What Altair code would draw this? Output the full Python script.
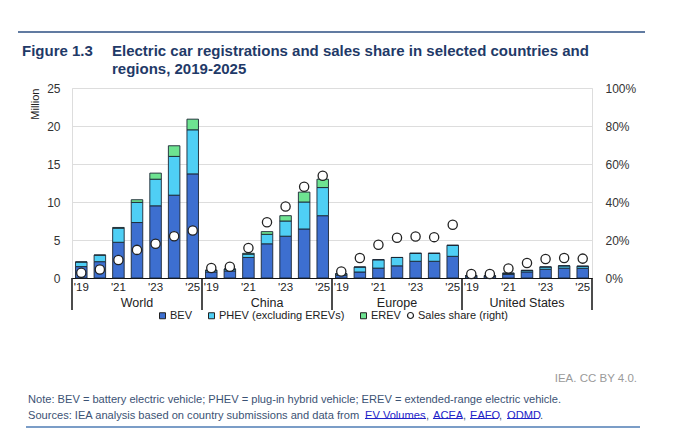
import altair as alt
import pandas as pd

regions = ["World", "China", "Europe", "United States"]
years = [2019, 2020, 2021, 2022, 2023, 2024, 2025]

# Million vehicles
bev = {
    "World": [1.5, 2.15, 4.7, 7.3, 9.5, 10.9, 13.7],
    "China": [0.8, 0.93, 2.7, 4.5, 5.5, 6.45, 8.2],
    "Europe": [0.36, 0.79, 1.3, 1.6, 2.2, 2.2, 2.85],
    "United States": [0.24, 0.23, 0.47, 0.8, 1.15, 1.3, 1.28],
}
phev = {
    "World": [0.6, 0.85, 1.85, 2.65, 3.5, 5.1, 5.8],
    "China": [0.22, 0.25, 0.43, 1.25, 2.0, 3.55, 3.7],
    "Europe": [0.2, 0.65, 1.1, 1.1, 1.05, 1.05, 1.45],
    "United States": [0.09, 0.07, 0.16, 0.2, 0.3, 0.3, 0.27],
}
erev = {
    "World": [0.02, 0.03, 0.1, 0.35, 0.8, 1.4, 1.4],
    "China": [0.0, 0.0, 0.12, 0.35, 0.7, 1.3, 1.1],
    "Europe": [0.0, 0.0, 0.0, 0.0, 0.0, 0.0, 0.0],
    "United States": [0.0, 0.0, 0.0, 0.0, 0.0, 0.0, 0.0],
}
# Sales share (fraction)
share = {
    "World": [0.028, 0.045, 0.095, 0.148, 0.18, 0.22, 0.25],
    "China": [0.053, 0.059, 0.158, 0.293, 0.376, 0.48, 0.538],
    "Europe": [0.034, 0.105, 0.175, 0.212, 0.218, 0.215, 0.28],
    "United States": [0.021, 0.021, 0.05, 0.079, 0.10, 0.105, 0.102],
}

types = ["BEV", "PHEV (excluding EREVs)", "EREV"]
type_colors = ["#3d6fd0", "#4fcff5", "#6ee391"]
series = {"BEV": bev, "PHEV (excluding EREVs)": phev, "EREV": erev}

keys = [f"{r} {y}" for r in regions for y in years]

bar_rows, share_rows = [], []
for r in regions:
    for i, y in enumerate(years):
        k = f"{r} {y}"
        for o, t in enumerate(types):
            bar_rows.append({"key": k, "type": t, "value": series[t][r][i], "ord": o})
        share_rows.append({"key": k, "share": share[r][i], "s": "Sales share (right)"})
bars_df = pd.DataFrame(bar_rows)
share_df = pd.DataFrame(share_rows)
label_df = pd.DataFrame({"key": [f"{r} 2022" for r in regions], "region": regions})
sep_df = pd.DataFrame({"key": [f"{r} 2019" for r in regions]})
sep_end_df = pd.DataFrame({"key": [f"{regions[-1]} 2025"]})

xscale = alt.Scale(domain=keys, paddingInner=0, paddingOuter=0)
label_expr = "(+slice(datum.value, -4)) % 2 == 1 ? \"'\" + slice(datum.value, -2) : ''"

x_axis = alt.Axis(
    title=None, labelExpr=label_expr, ticks=False, labelAngle=0, labelOverlap=False,
    domainColor="#111111", domainWidth=1, labelFontSize=11.5, labelColor="#222222",
    labelPadding=3, grid=False,
)

bars = alt.Chart(bars_df).mark_bar(
    width=alt.RelativeBandSize(0.62), stroke="#1b2633", strokeWidth=0.9
).encode(
    x=alt.X("key:N", sort=keys, scale=xscale, axis=x_axis),
    y=alt.Y(
        "value:Q", stack=True,
        scale=alt.Scale(domain=[0, 25], nice=False),
        axis=alt.Axis(
            values=[0, 5, 10, 15, 20, 25], title="Million", titleAnchor="end",
            titleFontWeight="normal", titleFontSize=11, titleColor="#222222",
            titlePadding=6, domain=False, ticks=False, gridColor="#dddddd",
            labelFontSize=12, labelColor="#333333", labelPadding=12,
        ),
    ),
    color=alt.Color(
        "type:N",
        scale=alt.Scale(domain=types, range=type_colors),
        legend=alt.Legend(
            title=None, orient="none", legendX=85, legendY=222, direction="horizontal",
            symbolType="square", symbolSize=36, symbolStrokeColor="#222222",
            symbolStrokeWidth=1, labelFontSize=11, labelColor="#222222",
            labelOffset=2, columnPadding=13, padding=0,
        ),
    ),
    order=alt.Order("ord:Q"),
)

points = alt.Chart(share_df).mark_point(
    filled=False, fill="white", fillOpacity=1, strokeWidth=1.3, size=85, opacity=1,
    shape="circle",
).encode(
    x=alt.X("key:N", sort=keys, scale=xscale, axis=x_axis),
    y=alt.Y(
        "share:Q",
        scale=alt.Scale(domain=[0, 1], nice=False),
        axis=alt.Axis(
            orient="right", format=".0%", values=[0, 0.2, 0.4, 0.6, 0.8, 1.0], title=None,
            domain=False, ticks=False, grid=False, labelFontSize=12,
            labelColor="#333333", labelPadding=13,
        ),
    ),
    stroke=alt.Stroke(
        "s:N",
        scale=alt.Scale(domain=["Sales share (right)"], range=["#222222"]),
        legend=alt.Legend(
            title=None, orient="none", legendX=333, legendY=222,
            symbolType="circle", symbolSize=36, symbolFillColor="white",
            symbolStrokeWidth=1.2, labelFontSize=11, labelColor="#222222",
            labelOffset=2, padding=0,
        ),
    ),
)

region_text = alt.Chart(label_df).mark_text(
    fontSize=12.5, color="#222222", baseline="middle"
).encode(
    x=alt.X("key:N", sort=keys, scale=xscale),
    y=alt.value(215),
    text="region:N",
)

seps = alt.Chart(sep_df).mark_rule(color="#111111", strokeWidth=1.5).encode(
    x=alt.X("key:N", sort=keys, scale=xscale, bandPosition=0),
    y=alt.value(190), y2=alt.value(222),
)
sep_end = alt.Chart(sep_end_df).mark_rule(color="#111111", strokeWidth=1.5).encode(
    x=alt.X("key:N", sort=keys, scale=xscale, bandPosition=1),
    y=alt.value(190), y2=alt.value(222),
)

one = alt.Data(values=[{}])


def txt(text, x, y, **kw):
    return alt.Chart(one).mark_text(text=text, **kw).encode(x=alt.value(x), y=alt.value(y))


def hline(x1, x2, y, color, w):
    return alt.Chart(one).mark_rule(color=color, strokeWidth=w).encode(
        x=alt.value(x1), x2=alt.value(x2), y=alt.value(y)
    )


title_color = "#1f3a68"
note_color = "#3b5274"
link_color = "#2323c8"
nfs = 11.1

annotations = [
    hline(-54, 573, -56, "#2c4f82", 1.5),
    txt("Figure 1.3", -50, -37, align="left", fontSize=15, fontWeight="bold", color=title_color),
    txt("Electric car registrations and sales share in selected countries and", 40, -37,
        align="left", fontSize=15, fontWeight="bold", color=title_color),
    txt("regions, 2019-2025", 40, -19, align="left", fontSize=15, fontWeight="bold", color=title_color),
    txt("IEA. CC BY 4.0.", 565, 291, align="right", fontSize=11.5, color="#9a9a9a"),
    txt("Note: BEV = battery electric vehicle; PHEV = plug-in hybrid vehicle; EREV = extended-range electric vehicle.",
        -44, 312, align="left", fontSize=nfs, color=note_color),
    txt("Sources: IEA analysis based on country submissions and data from", -44, 328,
        align="left", fontSize=nfs, color=note_color),
    txt("EV Volumes", 293, 328, align="left", fontSize=nfs, color=link_color),
    txt(",", 354, 328, align="left", fontSize=nfs, color=note_color),
    txt("ACEA", 361, 328, align="left", fontSize=nfs, color=link_color),
    txt(",", 391, 328, align="left", fontSize=nfs, color=note_color),
    txt("EAFO", 398, 328, align="left", fontSize=nfs, color=link_color),
    txt(",", 427, 328, align="left", fontSize=nfs, color=note_color),
    txt("ODMD", 435, 328, align="left", fontSize=nfs, color=link_color),
    txt(".", 468, 328, align="left", fontSize=nfs, color=note_color),
    hline(293, 354, 330.5, link_color, 1),
    hline(361, 390, 330.5, link_color, 1),
    hline(398, 426, 330.5, link_color, 1),
    hline(435, 467, 330.5, link_color, 1),
    hline(-46, 568, 339, "#4f7cb5", 1.5),
]

chart = alt.layer(
    bars, points, region_text, seps, sep_end, *annotations
).resolve_scale(
    y="independent"
).properties(
    width=520, height=190,
    autosize=alt.AutoSizeParams(type="none"),
    padding={"left": 64, "top": 80, "right": 80, "bottom": 152},
).configure_view(
    stroke=None
).configure(
    font="Liberation Sans"
)

chart.save("out.html", embed_options={"renderer": "svg", "actions": False})
